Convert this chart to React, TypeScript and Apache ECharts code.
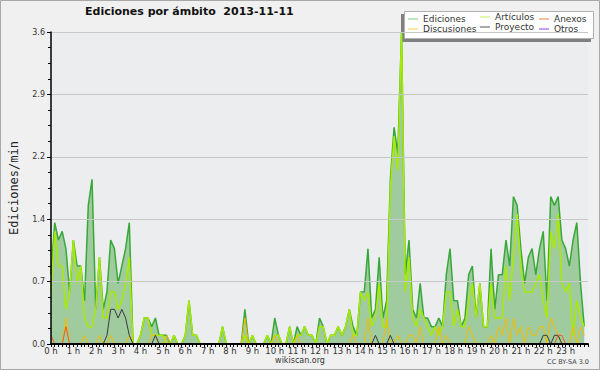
import React, { useEffect, useRef } from "react";
import * as echarts from "echarts";

// 10-minute slots (144 per day), values in edits/min
const hourLabels = Array.from({ length: 24 }, (_, h) => `${h} h`);

const ediciones = [
  0.8, 1.4, 1.2, 1.3, 1.1, 0.6, 1.2, 0.9, 0.9, 0.5, 1.6, 1.9,
  0.4, 1.0, 0.4, 0.6, 1.2, 1.1, 0.7, 0.9, 1.1, 1.4, 0, 0,
  0.1, 0.3, 0.3, 0.2, 0.3, 0.1, 0.1, 0.1, 0, 0.1, 0, 0,
  0.1, 0.5, 0.1, 0.1, 0, 0, 0, 0, 0, 0, 0.2, 0,
  0, 0, 0, 0, 0.4, 0, 0.1, 0, 0, 0, 0.1, 0,
  0.3, 0.1, 0, 0, 0.2, 0, 0.2, 0.1, 0.2, 0.1, 0.1, 0,
  0.3, 0.2, 0, 0.1, 0.1, 0.2, 0.1, 0.2, 0.4, 0.2, 0.1, 0.6,
  0.6, 1.1, 0.3, 0.4, 1.0, 0.3, 0.5, 1.9, 2.5, 2.2, 3.6, 0.8,
  1.2, 0.4, 0.3, 0.7, 0.3, 0.3, 0.2, 0.2, 0.3, 0.2, 0.8, 1.1,
  0.5, 0.5, 0.2, 0.3, 0.8, 0.9, 0.3, 0.7, 0.2, 0.2, 1.1, 0.4,
  0.8, 0.8, 1.2, 0.9, 1.7, 1.6, 1.1, 0.7, 1.0, 1.1, 0.8, 1.1,
  1.3, 0.5, 1.7, 1.6, 1.7, 1.2, 1.1, 0.9, 1.2, 1.4, 0.7, 0.2,
];

const articulos = [
  0.6, 1.3, 0.9, 0.9, 0.4, 0.6, 1.2, 0.7, 0.9, 0.3, 0.2, 0.2,
  0.4, 1.0, 0.3, 0.3, 0.6, 0.6, 0.4, 0.5, 0.7, 1.0, 0, 0,
  0.1, 0.3, 0.3, 0.1, 0.1, 0.1, 0.1, 0, 0, 0.1, 0, 0,
  0.1, 0.5, 0.1, 0.1, 0, 0, 0, 0, 0, 0, 0.2, 0,
  0, 0, 0, 0, 0.1, 0, 0.1, 0, 0, 0, 0.1, 0,
  0.1, 0.1, 0, 0, 0.2, 0, 0.1, 0.1, 0.2, 0.1, 0.1, 0,
  0.2, 0.2, 0, 0.1, 0.1, 0.2, 0.1, 0.2, 0.4, 0.1, 0.1, 0.6,
  0.5, 0.6, 0.2, 0.3, 0.7, 0.2, 0.2, 1.8, 2.4, 2.0, 3.6, 0.6,
  1.0, 0.3, 0.2, 0.4, 0.3, 0.2, 0.1, 0.2, 0.1, 0.2, 0.6, 0.6,
  0.2, 0.4, 0.2, 0.2, 0.5, 0.7, 0.3, 0.7, 0.2, 0.2, 0.7, 0.3,
  0.3, 0.3, 0.9, 0.5, 1.0, 1.5, 0.9, 0.6, 0.6, 0.6, 0.7, 0.8,
  0.5, 0.3, 1.3, 1.1, 1.5, 0.7, 0.6, 0.7, 0.1, 0.5, 0.3, 0.2,
];

const discusiones = [
  0, 0, 0, 0, 0.3, 0, 0, 0, 0, 0.1, 0, 0,
  0, 0.1, 0, 0, 0.1, 0, 0, 0, 0, 0.1, 0, 0,
  0, 0, 0, 0.1, 0.1, 0, 0, 0.1, 0, 0, 0, 0,
  0, 0, 0, 0, 0, 0, 0, 0, 0, 0, 0, 0,
  0, 0, 0, 0, 0.3, 0, 0, 0, 0, 0, 0, 0,
  0.1, 0, 0, 0, 0, 0, 0.1, 0, 0, 0, 0, 0,
  0, 0, 0, 0, 0, 0, 0, 0, 0, 0.1, 0, 0,
  0, 0.3, 0, 0, 0, 0, 0.3, 0, 0, 0.1, 0, 0,
  0.1, 0.1, 0, 0.2, 0, 0, 0, 0, 0.2, 0, 0.1, 0,
  0, 0, 0, 0, 0.2, 0.1, 0, 0, 0, 0, 0.1, 0,
  0.2, 0.1, 0.3, 0, 0.3, 0.1, 0.2, 0, 0.2, 0.1, 0.1, 0.2,
  0.2, 0, 0.3, 0.2, 0.1, 0, 0, 0, 0.2, 0, 0.2, 0.1,
];

const proyecto = [
  0, 0, 0, 0, 0, 0, 0, 0, 0, 0, 0, 0,
  0, 0, 0, 0.1, 0.4, 0.4, 0.3, 0.4, 0.3, 0.1, 0, 0,
  0, 0, 0, 0, 0.1, 0, 0, 0, 0, 0, 0, 0,
  0, 0, 0, 0, 0, 0, 0, 0, 0, 0, 0, 0,
  0, 0, 0, 0, 0, 0, 0, 0, 0, 0, 0, 0,
  0, 0, 0, 0, 0, 0, 0, 0, 0, 0, 0, 0,
  0, 0, 0, 0, 0, 0, 0, 0, 0, 0, 0, 0,
  0, 0, 0, 0.1, 0, 0, 0, 0.1, 0, 0, 0, 0,
  0, 0, 0, 0, 0, 0, 0, 0, 0, 0, 0, 0,
  0, 0, 0, 0, 0, 0, 0, 0, 0, 0, 0, 0,
  0, 0, 0, 0, 0, 0, 0, 0, 0, 0, 0, 0,
  0.1, 0.1, 0, 0.1, 0.1, 0, 0, 0, 0, 0, 0, 0,
];

const anexos = [
  0.1, 0, 0, 0, 0.2, 0, 0, 0, 0, 0, 0, 0,
  0, 0, 0, 0, 0, 0, 0, 0, 0, 0, 0, 0,
  0, 0, 0, 0, 0, 0, 0, 0, 0, 0, 0, 0,
  0, 0, 0, 0, 0, 0, 0, 0, 0, 0, 0, 0,
  0, 0, 0, 0, 0, 0, 0, 0, 0, 0, 0, 0,
  0, 0, 0, 0, 0, 0, 0, 0, 0, 0, 0, 0,
  0, 0, 0, 0, 0, 0, 0, 0, 0, 0, 0, 0,
  0, 0, 0, 0, 0, 0, 0, 0, 0, 0, 0, 0,
  0, 0, 0, 0, 0, 0, 0, 0, 0, 0, 0, 0,
  0, 0, 0, 0, 0, 0, 0, 0, 0, 0, 0, 0,
  0, 0, 0, 0, 0, 0, 0, 0, 0, 0, 0, 0,
  0, 0, 0, 0, 0.1, 0.1, 0, 0, 0, 0, 0, 0,
];

const otros = [
  0, 0, 0, 0, 0, 0, 0, 0, 0, 0, 0, 0,
  0, 0, 0, 0, 0, 0, 0, 0, 0, 0, 0, 0,
  0, 0, 0, 0, 0, 0, 0, 0, 0, 0, 0, 0,
  0, 0, 0, 0, 0, 0, 0, 0, 0, 0, 0, 0,
  0, 0, 0, 0, 0, 0, 0, 0, 0, 0, 0, 0,
  0, 0, 0, 0, 0, 0, 0, 0, 0, 0, 0, 0,
  0, 0, 0, 0, 0, 0, 0, 0, 0, 0, 0, 0,
  0, 0, 0, 0, 0, 0, 0, 0, 0, 0, 0, 0,
  0, 0, 0, 0, 0, 0, 0, 0, 0, 0, 0, 0,
  0, 0, 0, 0, 0, 0, 0, 0, 0, 0, 0, 0,
  0, 0, 0, 0, 0, 0, 0, 0, 0, 0, 0, 0,
  0, 0, 0, 0, 0, 0, 0, 0, 0, 0, 0, 0,
];

const SLOTS_PER_HOUR = 6;
const FONT = "DejaVu Sans";

const toPairs = (arr: number[]) => arr.map((v, i) => [i, v]);

export default function App() {
  const ref = useRef<HTMLDivElement>(null);
  useEffect(() => {
    if (!ref.current) return;
    const chart = echarts.init(ref.current, undefined, { renderer: "svg" });
    const mkLine = (name: string, data: number[], color: string, width: number, z: number) => ({
      name,
      type: "line",
      data: toPairs(data),
      showSymbol: false,
      symbol: "none",
      z,
      itemStyle: { color },
      lineStyle: { color, width },
      emphasis: { disabled: true },
    });
    const legendText = { fontFamily: FONT, fontSize: 9, color: "#333", lineHeight: 10 };
    const legendBase = {
      orient: "vertical",
      itemWidth: 10,
      itemHeight: 1,
      itemGap: 0,
      icon: "rect",
      textStyle: legendText,
      padding: 0,
      z: 10,
      selectedMode: false,
    };
    chart.setOption({
      animation: false,
      backgroundColor: "#f0f0f0",
      title: {
        text: "Ediciones por ámbito  2013-11-11",
        left: 85,
        top: 6,
        padding: 0,
        textStyle: { fontFamily: FONT, fontSize: 11, fontWeight: "bold", color: "#111" },
      },
      legend: [
        {
          ...legendBase,
          left: 408,
          top: 14,
          data: [
            { name: "Ediciones", itemStyle: { color: "#80cc80" } },
            { name: "Discusiones", itemStyle: { color: "#f5d040" } },
          ],
        },
        {
          ...legendBase,
          left: 480,
          top: 12,
          data: [
            { name: "Artículos", itemStyle: { color: "#c4f060" } },
            { name: "Proyecto", itemStyle: { color: "#555555" } },
          ],
        },
        {
          ...legendBase,
          left: 539,
          top: 14,
          data: [
            { name: "Anexos", itemStyle: { color: "#f08040" } },
            { name: "Otros", itemStyle: { color: "#9040f0" } },
          ],
        },
      ],
      graphic: [
        {
          type: "rect",
          z: 0,
          shape: { x: 0.5, y: 0.5, width: 599, height: 369 },
          style: { fill: "none", stroke: "#a8a8a8", lineWidth: 1 },
        },
        {
          type: "rect",
          z: 1,
          shape: { x: 401, y: 14, width: 190, height: 28 },
          style: { fill: "#808080" },
        },
        {
          type: "rect",
          z: 2,
          shape: { x: 404.5, y: 11.5, width: 189, height: 27 },
          style: { fill: "#ffffff", stroke: "#b0b0b0", lineWidth: 1 },
        },
        {
          type: "text",
          z: 2,
          left: "center",
          top: 356,
          style: { text: "wikiscan.org", font: `8px "${FONT}"`, fill: "#333" },
        },
        {
          type: "text",
          z: 2,
          right: 11,
          top: 358,
          style: { text: "CC BY-SA 3.0", font: `6.5px "${FONT}"`, fill: "#444" },
        },
      ],
      grid: {
        left: 46,
        right: 12,
        top: 32,
        bottom: 26,
        show: true,
        backgroundColor: "#ebedef",
        borderWidth: 0,
      },
      xAxis: {
        type: "value",
        min: 0,
        max: 24 * SLOTS_PER_HOUR,
        interval: SLOTS_PER_HOUR,
        z: 10,
        axisLine: { show: true, onZero: false, lineStyle: { color: "#000", width: 2 } },
        axisTick: { show: true, length: 3, lineStyle: { color: "#000" } },
        minorTick: { show: true, splitNumber: SLOTS_PER_HOUR, length: 3, lineStyle: { color: "#000" } },
        splitLine: { show: false },
        axisLabel: {
          margin: 2,
          fontFamily: FONT,
          fontSize: 8.5,
          color: "#333",
          showMaxLabel: false,
          formatter: (v: number) => hourLabels[Math.round(v / SLOTS_PER_HOUR)] ?? "",
        },
      },
      yAxis: {
        type: "value",
        min: 0,
        max: 3.6,
        interval: 0.72,
        z: 10,
        name: "Ediciones/min",
        nameLocation: "middle",
        nameGap: 31,
        nameTextStyle: { fontFamily: "DejaVu Sans Mono", fontSize: 12, color: "#222" },
        axisLine: { show: true, lineStyle: { color: "#000", width: 1.5 } },
        axisTick: { show: true, length: 4, lineStyle: { color: "#000" } },
        minorTick: { show: true, splitNumber: 4, length: 3, lineStyle: { color: "#000" } },
        splitLine: { show: true, lineStyle: { color: "#c8c8c8", width: 1 } },
        axisLabel: {
          margin: 6,
          fontFamily: FONT,
          fontSize: 8,
          color: "#333",
          formatter: (v: number) => v.toFixed(1),
        },
      },
      series: [
        {
          ...mkLine("Ediciones", ediciones, "#80cc80", 1.5, 2),
          lineStyle: { color: "#38a838", width: 1.5 },
          areaStyle: { color: "#9fcb9f", opacity: 1 },
        },
        mkLine("Artículos", articulos, "#a8ea00", 1.5, 3),
        mkLine("Discusiones", discusiones, "#f2bc00", 1, 4),
        mkLine("Proyecto", proyecto, "#3a3a3a", 1, 5),
        mkLine("Anexos", anexos, "#f05a28", 1, 6),
        mkLine("Otros", otros, "#9040f0", 1, 1),
      ],
    });
    return () => chart.dispose();
  }, []);
  return (
    <div
      ref={ref}
      style={{ position: "fixed", left: 0, top: 0, width: 600, height: 370 }}
    />
  );
}
